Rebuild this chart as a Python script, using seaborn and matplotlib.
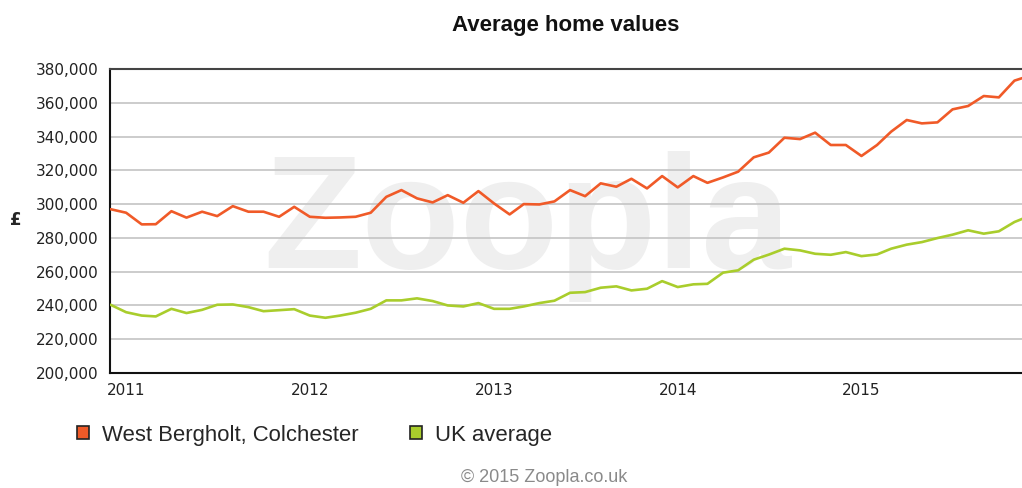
import pandas as pd
import matplotlib.pyplot as plt
import matplotlib.dates as mdates
import seaborn as sns
from matplotlib.patches import Patch
from matplotlib.ticker import StrMethodFormatter

# --- Data (monthly, values in thousands of pounds) ---
months = pd.date_range('2010-12-01', '2015-12-01', freq='MS')

west_bergholt = [
    297.0,
    294.9, 288.0, 288.1, 295.8, 292.0, 295.5, 292.9, 298.8, 295.5, 295.5, 292.5, 298.4,
    292.5, 291.9, 292.1, 292.5, 294.9, 304.3, 308.3, 303.4, 301.0, 305.3, 300.8, 307.7,
    300.4, 293.9, 300.0, 299.8, 301.6, 308.3, 304.7, 312.3, 310.3, 315.0, 309.3, 316.6,
    309.9, 316.6, 312.6, 315.8, 319.2, 327.7, 330.5, 339.3, 338.5, 342.3, 335.0, 335.0,
    328.5, 335.0, 342.9, 349.8, 347.8, 348.4, 356.1, 358.1, 364.0, 363.2, 373.1, 376.0,
]
uk_average = [
    240.4,
    236.0, 234.0, 233.5, 238.0, 235.5, 237.4, 240.4, 240.6, 239.0, 236.6, 237.2, 237.8,
    234.0, 232.7, 234.0, 235.7, 238.0, 243.0, 243.0, 244.2, 242.6, 240.0, 239.4, 241.4,
    238.0, 238.0, 239.4, 241.4, 242.8, 247.5, 247.9, 250.5, 251.3, 248.9, 249.9, 254.4,
    250.9, 252.5, 252.8, 259.4, 260.8, 267.1, 270.1, 273.6, 272.6, 270.6, 270.0, 271.6,
    269.2, 270.2, 273.6, 276.0, 277.5, 279.9, 281.9, 284.5, 282.5, 283.9, 289.4, 293.0,
]

series_names = ['West Bergholt, Colchester', 'UK average']
series_colors = ['#f05a28', '#a9cd2c']

df = pd.concat([
    pd.DataFrame({'date': months, 'value': [v * 1000 for v in west_bergholt], 'area': series_names[0]}),
    pd.DataFrame({'date': months, 'value': [v * 1000 for v in uk_average], 'area': series_names[1]}),
])

# --- Style ---
sns.set_style('white')
plt.rcParams['font.family'] = ['DejaVu Sans']

fig = plt.figure(figsize=(10.22, 4.88), dpi=100)
ax = fig.add_axes([110 / 1022, 115 / 488, 912 / 1022, 304 / 488])

# watermark
ax.text(0.457, 0.345, 'Zoopla', transform=ax.transAxes, ha='center', va='baseline',
        fontsize=116, fontweight='bold', color='#efefef', family='Liberation Sans', zorder=0.1)

sns.lineplot(data=df, x='date', y='value', hue='area', palette=series_colors,
             linewidth=1.9, legend=False, ax=ax, zorder=3)

# --- Axes ---
ax.set_ylim(200000, 380000)
ax.set_yticks(range(200000, 380001, 20000))
ax.yaxis.set_major_formatter(StrMethodFormatter('{x:,.0f}'))
ax.set_xlim(pd.Timestamp('2010-11-30'), pd.Timestamp('2015-11-16'))
ax.xaxis.set_major_locator(mdates.YearLocator())
ax.xaxis.set_major_formatter(mdates.DateFormatter('%Y'))

ax.set_axisbelow(True)
ax.grid(axis='y', color='#c8c8c8', linewidth=1.3)
ax.tick_params(axis='both', labelsize=11, colors='#222222', length=5, width=1.2, pad=3)
ax.tick_params(axis='x', pad=2)
for s in ['left', 'bottom']:
    ax.spines[s].set_color('#111111')
    ax.spines[s].set_linewidth(1.5)
ax.spines['top'].set_color('#444444')
ax.spines['top'].set_linewidth(1.5)
ax.spines['right'].set_visible(False)

ax.set_xlabel('')
ax.set_ylabel('')
fig.text(16 / 1022, 1 - 220 / 488, '£', ha='center', va='center', fontsize=12, fontweight='bold')

ax.set_title('Average home values', fontsize=16, fontweight='bold', family='Liberation Sans',
             color='#111111', pad=27)

# --- Legend ---
handles = [Patch(facecolor=c, edgecolor='#222222', linewidth=1.2, label=n)
           for n, c in zip(series_names, series_colors)]
fig.legend(handles=handles, loc='center left', bbox_to_anchor=(77 / 1022, 1 - 435 / 488),
           ncol=2, frameon=False, borderpad=0, borderaxespad=0,
           handlelength=0.54, handleheight=0.54, handletextpad=0.59, columnspacing=2.35,
           prop={'family': 'Liberation Sans', 'size': 15.9})

fig.text(544 / 1022, 1 - 478 / 488, '© 2015 Zoopla.co.uk', ha='center', va='center',
         fontsize=13, color='#8a8a8a', family='Liberation Sans')

fig.savefig('out.png', dpi=100)
